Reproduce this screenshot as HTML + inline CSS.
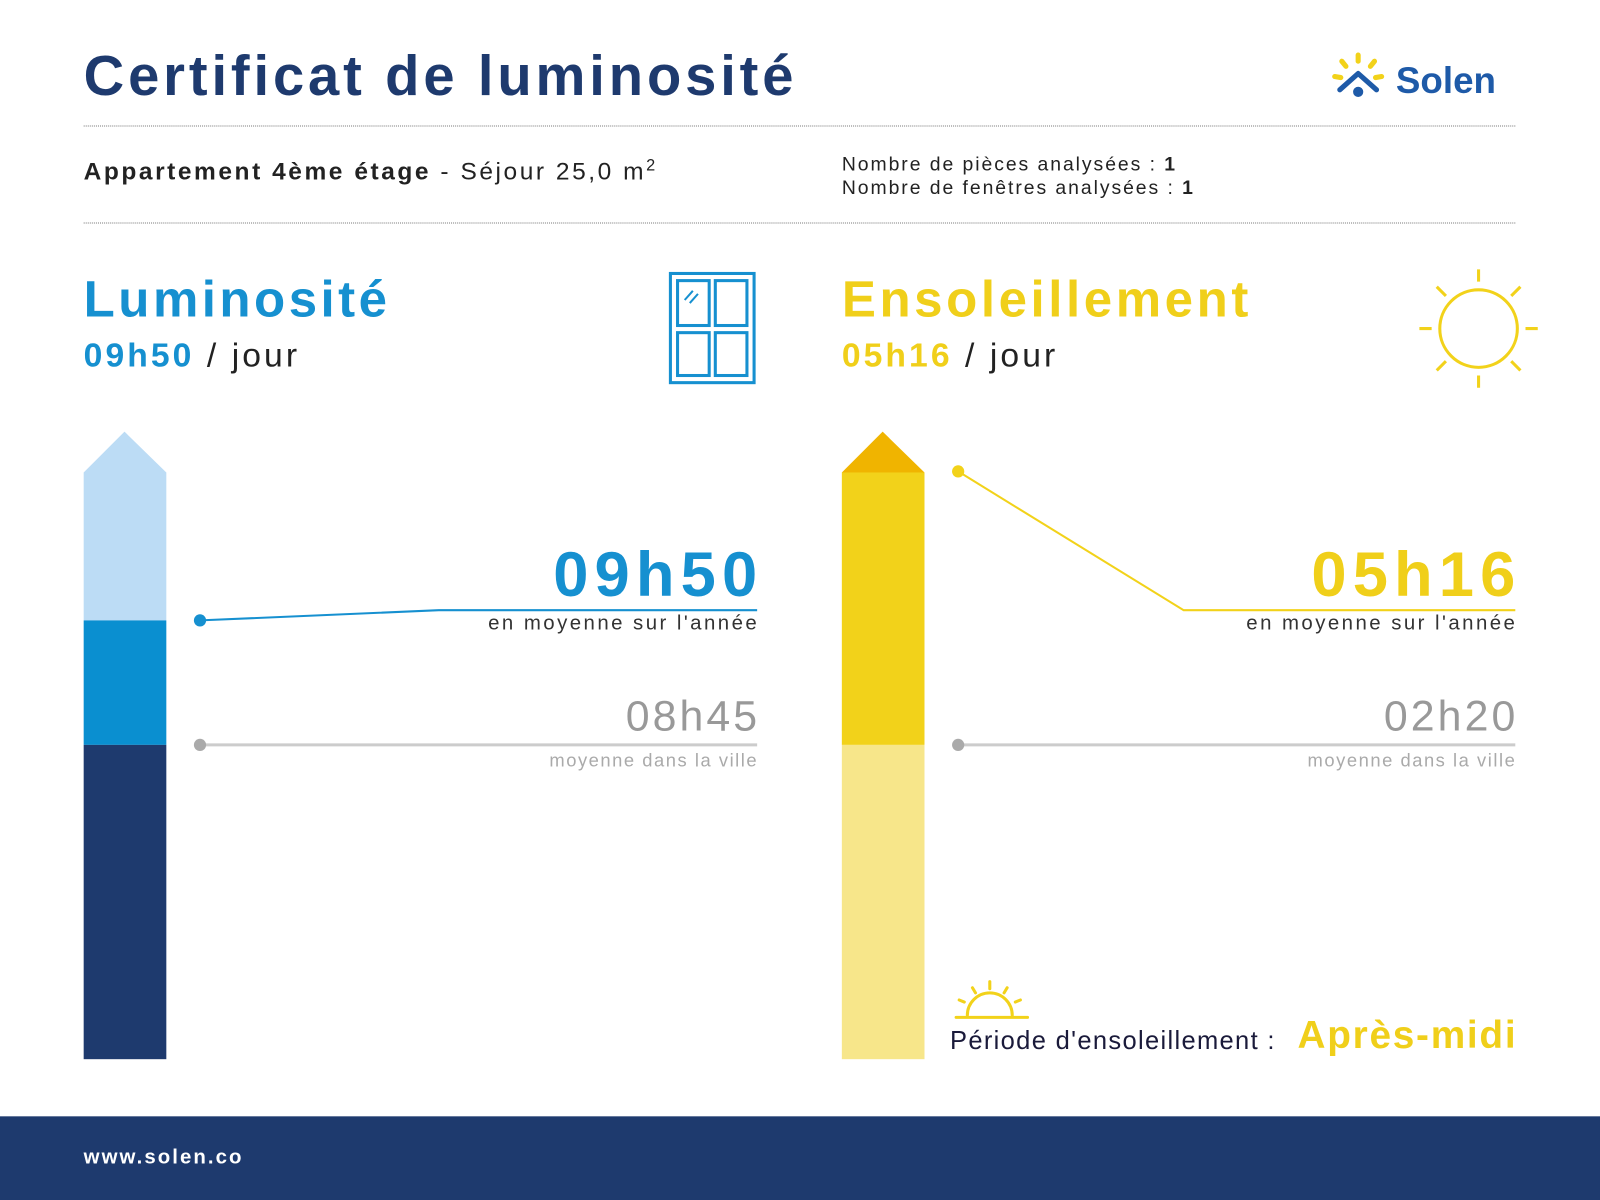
<!DOCTYPE html>
<html><head><meta charset="utf-8"><style>
html,body{margin:0;padding:0;background:#fff;width:1600px;height:1200px;overflow:hidden}
#w{position:absolute;left:0;top:0;width:1568px;height:1176px;transform:scale(1.020408);transform-origin:0 0;font-family:"Liberation Sans",sans-serif}
.a{position:absolute;white-space:nowrap}
.dot{position:absolute;border-top:1.5px dotted #777;left:82px;width:1403px}
.r{text-align:right}
</style></head><body><div id="w">
<div class="a" style="left:82px;top:42px;font-size:55px;font-weight:bold;color:#1e3a6e;letter-spacing:3.8px">Certificat de luminosité</div>
<svg class="a" style="left:1303px;top:50px" width="60" height="50" viewBox="0 0 60 50">
<g stroke="#f2d21a" stroke-width="5" stroke-linecap="round"><line x1="28" y1="4" x2="28" y2="10"/><line x1="12" y1="10" x2="16" y2="15"/><line x1="44" y1="10" x2="40" y2="15"/><line x1="5" y1="25" x2="11" y2="26"/><line x1="51" y1="25" x2="45" y2="26"/></g>
<polyline points="10,38 28,22 46,38" fill="none" stroke="#1e5aa8" stroke-width="5" stroke-linejoin="round" stroke-linecap="round"/>
<circle cx="28" cy="40" r="5" fill="#1e5aa8"/></svg>
<div class="a" style="left:1368px;top:58px;font-size:36px;font-weight:bold;color:#1e5aa8">Solen</div>
<div class="dot" style="top:123px"></div>
<div class="a" style="left:82px;top:154px;font-size:24px;color:#222;letter-spacing:2.5px"><b>Appartement 4ème étage</b> - Séjour 25,0 m<sup style="font-size:16px">2</sup></div>
<div class="a" style="left:825px;top:150px;font-size:19px;color:#222;line-height:23px;letter-spacing:1.9px">Nombre de pièces analysées : <b>1</b><br>Nombre de fenêtres analysées : <b>1</b></div>
<div class="dot" style="top:218px"></div>

<div class="a" style="left:82px;top:264px;font-size:50px;font-weight:bold;color:#1690d0;letter-spacing:3.4px">Luminosité</div>
<div class="a" style="left:82px;top:329px;font-size:33px;color:#222;letter-spacing:3px"><b style="color:#1690d0">09h50</b> / jour</div>
<svg class="a" style="left:655px;top:266px" width="88" height="112"><g fill="none" stroke="#1690d0" stroke-width="3"><rect x="2" y="2" width="82" height="107"/><rect x="9" y="9" width="31" height="44"/><rect x="46" y="9" width="31" height="44"/><rect x="9" y="60" width="31" height="42"/><rect x="46" y="60" width="31" height="42"/></g><g stroke="#1690d0" stroke-width="2"><line x1="16" y1="28" x2="24" y2="19"/><line x1="21" y1="31" x2="29" y2="22"/></g></svg>

<div class="a" style="left:825px;top:264px;font-size:50px;font-weight:bold;color:#f0cf1a;letter-spacing:3.5px">Ensoleillement</div>
<div class="a" style="left:825px;top:329px;font-size:33px;color:#222;letter-spacing:3px"><b style="color:#f0cf1a">05h16</b> / jour</div>
<svg class="a" style="left:1389px;top:262px" width="120" height="120"><g stroke="#f2d21a" stroke-width="3" fill="none"><circle cx="60" cy="60" r="38"/><line x1="60" y1="2" x2="60" y2="14"/><line x1="60" y1="106" x2="60" y2="118"/><line x1="2" y1="60" x2="14" y2="60"/><line x1="106" y1="60" x2="118" y2="60"/><line x1="19" y1="19" x2="28" y2="28"/><line x1="101" y1="19" x2="92" y2="28"/><line x1="19" y1="101" x2="28" y2="92"/><line x1="101" y1="101" x2="92" y2="92"/></g></svg>

<svg class="a" style="left:0;top:0" width="1568" height="1176">
<polygon points="82,463 122,423 163,463" fill="#bcdcf5"/>
<rect x="82" y="463" width="81" height="145" fill="#bcdcf5"/>
<rect x="82" y="608" width="81" height="122" fill="#0a8fd0"/>
<rect x="82" y="730" width="81" height="308" fill="#1e3a6e"/>
<polygon points="825,463 865,423 906,463" fill="#f0b400"/>
<rect x="825" y="463" width="81" height="267" fill="#f2d21a"/>
<rect x="825" y="730" width="81" height="308" fill="#f7e68a"/>
<polyline points="196,608 430,598 742,598" fill="none" stroke="#1690d0" stroke-width="2"/>
<circle cx="196" cy="608" r="6" fill="#1690d0"/>
<line x1="196" y1="730" x2="742" y2="730" stroke="#ccc" stroke-width="3"/>
<circle cx="196" cy="730" r="6" fill="#aaa"/>
<polyline points="939,462 1160,598 1485,598" fill="none" stroke="#f2d21a" stroke-width="2"/>
<circle cx="939" cy="462" r="6" fill="#f2d21a"/>
<line x1="939" y1="730" x2="1485" y2="730" stroke="#ccc" stroke-width="3"/>
<circle cx="939" cy="730" r="6" fill="#aaa"/>
<g stroke="#f2d21a" stroke-width="3" fill="none" stroke-linecap="round"><line x1="937" y1="997" x2="1007" y2="997"/><path d="M948,995 A22,22 0 0 1 992,995"/><line x1="970" y1="962" x2="970" y2="969"/><line x1="953" y1="968" x2="956" y2="973"/><line x1="987" y1="968" x2="984" y2="973"/><line x1="940" y1="980" x2="945" y2="982"/><line x1="1000" y1="980" x2="995" y2="982"/></g>
</svg>

<div class="a r" style="right:820px;top:528px;font-size:62px;font-weight:bold;color:#1690d0;letter-spacing:6px">09h50</div>
<div class="a r" style="right:824px;top:600px;font-size:20px;color:#333;letter-spacing:2.4px">en moyenne sur l'année</div>
<div class="a r" style="right:823px;top:678px;font-size:42px;color:#999;letter-spacing:3px">08h45</div>
<div class="a r" style="right:825px;top:735px;font-size:18px;color:#aaa;letter-spacing:1.5px">moyenne dans la ville</div>
<div class="a r" style="right:77px;top:528px;font-size:62px;font-weight:bold;color:#f0cf1a;letter-spacing:6px">05h16</div>
<div class="a r" style="right:81px;top:600px;font-size:20px;color:#333;letter-spacing:2.4px">en moyenne sur l'année</div>
<div class="a r" style="right:80px;top:678px;font-size:42px;color:#999;letter-spacing:3px">02h20</div>
<div class="a r" style="right:82px;top:735px;font-size:18px;color:#aaa;letter-spacing:1.5px">moyenne dans la ville</div>
<div class="a" style="left:931px;top:1006px;font-size:25px;color:#1a1a3a;letter-spacing:1.3px">Période d'ensoleillement : </div>
<div class="a r" style="right:81px;top:994px;font-size:38px;font-weight:bold;color:#f0cf1a;letter-spacing:1.7px">Après-midi</div>

<div class="a" style="left:0;top:1094px;width:1568px;height:82px;background:#1e3a6e"></div>
<div class="a" style="left:82px;top:1123px;font-size:20px;font-weight:bold;color:#fff;letter-spacing:2px">www.solen.co</div>
</div></body></html>
